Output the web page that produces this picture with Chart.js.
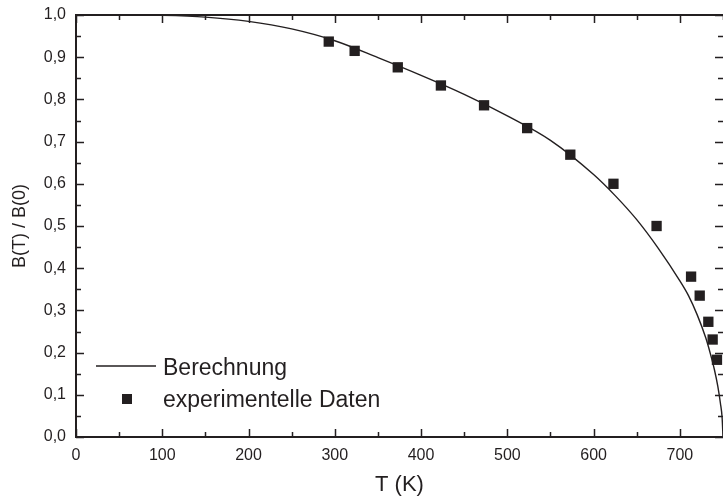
<!DOCTYPE html>
<html>
<head>
<meta charset="utf-8">
<script src="https://cdn.jsdelivr.net/npm/chart.js@4/dist/chart.umd.min.js"></script>
<style>
  body { margin: 0; background: #fff; }
  canvas { display: block; }
</style>
</head>
<body>
<canvas id="chart" width="723" height="501"></canvas>
<script>
// berechnete Kurve
var curveT = [0, 50, 100, 150, 200, 250, 300, 350, 400, 450, 500, 550, 600, 625, 650, 675, 700, 710, 720, 730, 735, 740, 744, 747, 749, 750];
var curveB = [1.0, 1.0, 0.999, 0.995, 0.985, 0.967, 0.939, 0.899, 0.857, 0.812, 0.761, 0.703, 0.622, 0.572, 0.515, 0.447, 0.370, 0.335, 0.290, 0.235, 0.200, 0.160, 0.120, 0.080, 0.045, 0.0];

// Messpunkte
var dataT = [293, 323, 373, 423, 473, 523, 573, 623, 673, 713, 723, 733, 738, 743];
var dataB = [0.937, 0.915, 0.876, 0.833, 0.786, 0.732, 0.669, 0.600, 0.500, 0.380, 0.335, 0.273, 0.231, 0.183];

var xMin = 0, xMax = 750, xStep = 100;
var yMin = 0, yMax = 1.0, yStep = 0.1;

var labelLine = "Berechnung";
var labelPoints = "experimentelle Daten";
var xTitle = "T (K)";
var yTitle = "B(T) / B(0)";

var ink = "#231f20";
var fontFam = "'Liberation Sans', Arial, Helvetica, sans-serif";

function toXY(xs, ys) {
    return xs.map(function (t, i) { return { x: t, y: ys[i] }; });
}

// Rahmen, Ticks nach innen und Legende im Diagramm
var frameTicks = {
    id: "frameTicks",
    afterDatasetsDraw: function (chart) {
        var ctx = chart.ctx;
        var a = chart.chartArea;
        var x = chart.scales.x;
        var y = chart.scales.y;
        ctx.save();
        ctx.strokeStyle = ink;
        ctx.lineWidth = 2;
        ctx.beginPath();
        ctx.moveTo(a.right + 2, a.top);
        ctx.lineTo(a.left, a.top);
        ctx.lineTo(a.left, a.bottom);
        ctx.lineTo(a.right + 2, a.bottom);
        ctx.stroke();

        ctx.lineWidth = 1.5;
        ctx.beginPath();
        for (var t = xMin; t <= xMax; t += 50) {
            var px = Math.round(x.getPixelForValue(t)) + 0.5;
            var len = t % 100 === 0 ? 8 : 5;
            ctx.moveTo(px, a.bottom);
            ctx.lineTo(px, a.bottom - len);
            ctx.moveTo(px, a.top);
            ctx.lineTo(px, a.top + len);
        }
        for (var k = 0; k <= 20; k++) {
            var v = k * 0.05;
            var py = Math.round(y.getPixelForValue(v)) + 0.5;
            var l2 = k % 2 === 0 ? 8 : 5;
            ctx.moveTo(a.left, py);
            ctx.lineTo(a.left + l2, py);
            ctx.moveTo(a.right, py);
            ctx.lineTo(a.right - l2, py);
        }
        ctx.stroke();

        // Legende
        var lx = a.left + 20;
        var ly = a.bottom - 71;
        ctx.lineWidth = 1.3;
        ctx.beginPath();
        ctx.moveTo(lx, ly);
        ctx.lineTo(lx + 60, ly);
        ctx.stroke();
        ctx.fillStyle = ink;
        ctx.fillRect(lx + 26, ly + 28, 10, 10);
        ctx.font = "23px " + fontFam;
        ctx.textBaseline = "alphabetic";
        ctx.textAlign = "left";
        ctx.fillText(labelLine, lx + 67, ly + 9);
        ctx.fillText(labelPoints, lx + 67, ly + 41);
        ctx.restore();
    }
};

var ctx = document.getElementById("chart").getContext("2d");
var chart = new Chart(ctx, {
    type: "scatter",
    data: {
        datasets: [{
            type: "line",
            label: labelLine,
            data: toXY(curveT, curveB),
            borderColor: ink,
            borderWidth: 1.4,
            pointRadius: 0,
            fill: false,
            clip: 4,
            cubicInterpolationMode: "monotone"
        }, {
            label: labelPoints,
            data: toXY(dataT, dataB),
            pointStyle: "rect",
            pointRadius: 7.3,
            pointHoverRadius: 7.3,
            backgroundColor: ink,
            borderColor: ink,
            borderWidth: 0
        }]
    },
    options: {
        responsive: false,
        animation: false,
        layout: { autoPadding: false, padding: { top: 15, right: 0, left: 0, bottom: 0 } },
        plugins: {
            legend: { display: false },
            tooltip: { enabled: false }
        },
        scales: {
            x: {
                type: "linear",
                min: xMin,
                max: xMax,
                grid: { display: false, drawTicks: false },
                border: { display: false },
                ticks: {
                    stepSize: xStep,
                    includeBounds: false,
                    maxRotation: 0,
                    padding: 9,
                    color: ink,
                    font: { family: fontFam, size: 16 }
                },
                title: {
                    display: true,
                    text: xTitle,
                    color: ink,
                    padding: { top: 0, bottom: 3 },
                    font: { family: fontFam, size: 22 }
                },
                afterFit: function (s) {
                    s.height = 64;
                    s.paddingLeft = 0;
                    s.paddingRight = 0;
                }
            },
            y: {
                min: yMin,
                max: yMax,
                grid: { display: false, drawTicks: false },
                border: { display: false },
                ticks: {
                    stepSize: yStep,
                    padding: 10,
                    color: ink,
                    font: { family: fontFam, size: 16 },
                    callback: function (v) { return v.toFixed(1).replace(".", ","); }
                },
                title: {
                    display: true,
                    text: yTitle,
                    color: ink,
                    padding: { top: 9, bottom: 0 },
                    font: { family: fontFam, size: 18 }
                },
                afterFit: function (s) {
                    s.width = 76;
                    s.paddingTop = 0;
                    s.paddingBottom = 0;
                }
            }
        }
    },
    plugins: [frameTicks]
});
</script>
</body>
</html>
